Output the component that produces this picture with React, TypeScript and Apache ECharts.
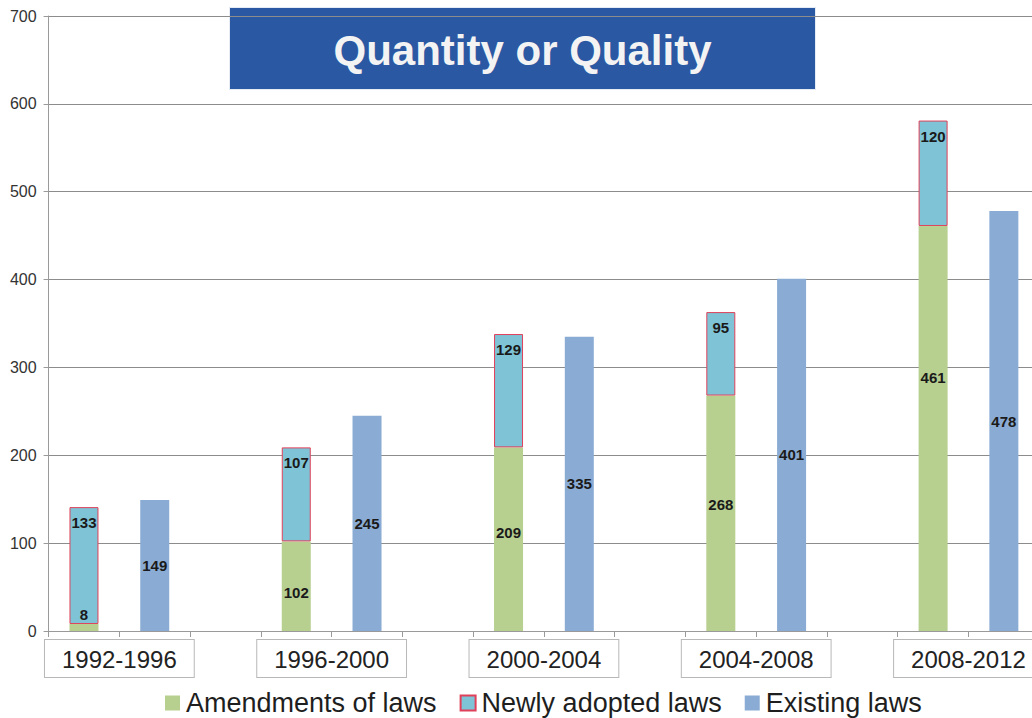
import React, { useEffect, useRef } from "react";
import * as echarts from "echarts";

// ---- data ----
const periods = ["1992-1996", "1996-2000", "2000-2004", "2004-2008", "2008-2012"];
const amendments = [8, 102, 209, 268, 461];
const newlyAdopted = [133, 107, 129, 95, 120];
const existing = [149, 245, 335, 401, 478];
const seriesNames = ["Amendments of laws", "Newly adopted laws", "Existing laws"];
const titleText = "Quantity or Quality";

// label vertical nudges for the amendments labels (style only)
const amendLabelShift = [-13, 6, -7, -9, -51];

const FONT = '"Liberation Sans", Arial, sans-serif';

export default function App() {
  const ref = useRef<HTMLDivElement>(null);

  useEffect(() => {
    if (!ref.current) return;
    const chart = echarts.init(ref.current, null, { renderer: "svg" });
    const n = periods.length;
    const slots: string[] = [];
    const amendData: any[] = [];
    const newData: any[] = [];
    const existData: any[] = [];
    for (let i = 0; i < n; i++) {
      for (let s = 0; s < 3; s++) {
        slots.push(periods[i] + "#" + s);
        amendData.push(
          s === 0
            ? { value: amendments[i], label: { offset: [0, amendLabelShift[i]] } }
            : "-"
        );
        newData.push(s === 0 ? newlyAdopted[i] : "-");
        existData.push(s === 1 ? existing[i] : "-");
      }
    }
    const boundaryCats: string[] = [];
    for (let j = 0; j <= n * 3; j++) {
      boundaryCats.push(j % 3 === 1 ? periods[(j - 1) / 3] : "b" + j);
    }

    const labelStyle = {
      show: true,
      color: "#1a1a1a",
      fontWeight: "bold" as const,
      fontSize: 15,
      fontFamily: FONT,
    };

    chart.setOption({
      animation: false,
      backgroundColor: "#ffffff",
      textStyle: { fontFamily: FONT },
      grid: { left: 48.6, right: 0, top: 16, bottom: 718 - 631, containLabel: false },
      legend: {
        left: 160,
        top: 683,
        itemWidth: 15,
        itemHeight: 15,
        itemGap: 23,
        icon: "rect",
        textStyle: { fontSize: 27, lineHeight: 30, color: "#1e1e1e", fontFamily: FONT, padding: [0, 0, 0, 1] },
        data: seriesNames,
      },
      xAxis: [
        {
          type: "category",
          data: slots,
          position: "bottom",
          axisLine: { show: true, lineStyle: { color: "#9a9a9a", width: 1 } },
          axisTick: { show: true, interval: 0, length: 6, lineStyle: { color: "#9a9a9a" } },
          axisLabel: { show: false },
          splitLine: { show: false },
        },
        {
          type: "category",
          data: boundaryCats,
          position: "bottom",
          boundaryGap: false,
          axisLine: { show: false },
          axisTick: { show: false },
          splitLine: { show: false },
          axisLabel: {
            show: true,
            interval: (idx: number) => idx % 3 === 1,
            fontSize: 24,
            color: "#222222",
            fontFamily: FONT,
            backgroundColor: "#ffffff",
            borderColor: "#b8b8b8",
            borderWidth: 1,
            padding: [7, 17, 6, 17],
            margin: 9,
          },
        },
      ],
      yAxis: {
        type: "value",
        min: 0,
        max: 700,
        interval: 100,
        axisLine: { show: true, lineStyle: { color: "#9a9a9a" } },
        axisTick: { show: true, length: 5, lineStyle: { color: "#9a9a9a" } },
        axisLabel: { fontSize: 16, color: "#333333", margin: 12, fontFamily: FONT },
        splitLine: { show: true, lineStyle: { color: "#8c8c8c", width: 1 } },
      },
      series: [
        {
          name: seriesNames[0],
          type: "bar",
          stack: "all",
          xAxisIndex: 0,
          barWidth: 29,
          data: amendData,
          itemStyle: { color: "#b7cf8f" },
          label: { ...labelStyle, position: "inside" },
        },
        {
          name: seriesNames[1],
          type: "bar",
          stack: "all",
          xAxisIndex: 0,
          barWidth: 29,
          data: newData,
          itemStyle: { color: "#7ec3d6", borderColor: "#e0405a", borderWidth: 1 },
          label: { ...labelStyle, position: "insideTop", distance: 8 },
        },
        {
          name: seriesNames[2],
          type: "bar",
          stack: "all",
          xAxisIndex: 0,
          barWidth: 29,
          data: existData,
          itemStyle: { color: "#8aabd3" },
          label: { ...labelStyle, position: "inside" },
        },
      ],
      graphic: [
        {
          type: "group",
          left: 229,
          top: 7,
          children: [
            {
              type: "rect",
              shape: { x: 0, y: 0, width: 586, height: 82 },
              style: { fill: "#2a58a3", stroke: "#e6ecf4", lineWidth: 1 },
            },
            {
              type: "text",
              x: 293,
              y: 43,
              style: {
                text: titleText,
                fill: "#f3f3f3",
                fontSize: 42,
                fontWeight: "bold",
                fontFamily: FONT,
                align: "center",
                verticalAlign: "middle",
              },
            },
          ],
        },
      ],
    });

    return () => chart.dispose();
  }, []);

  return (
    <div
      style={{
        position: "fixed",
        left: 0,
        top: 0,
        width: 1032,
        height: 718,
        overflow: "hidden",
        background: "#ffffff",
      }}
    >
      <div ref={ref} style={{ width: 1110, height: 718 }} />
    </div>
  );
}
